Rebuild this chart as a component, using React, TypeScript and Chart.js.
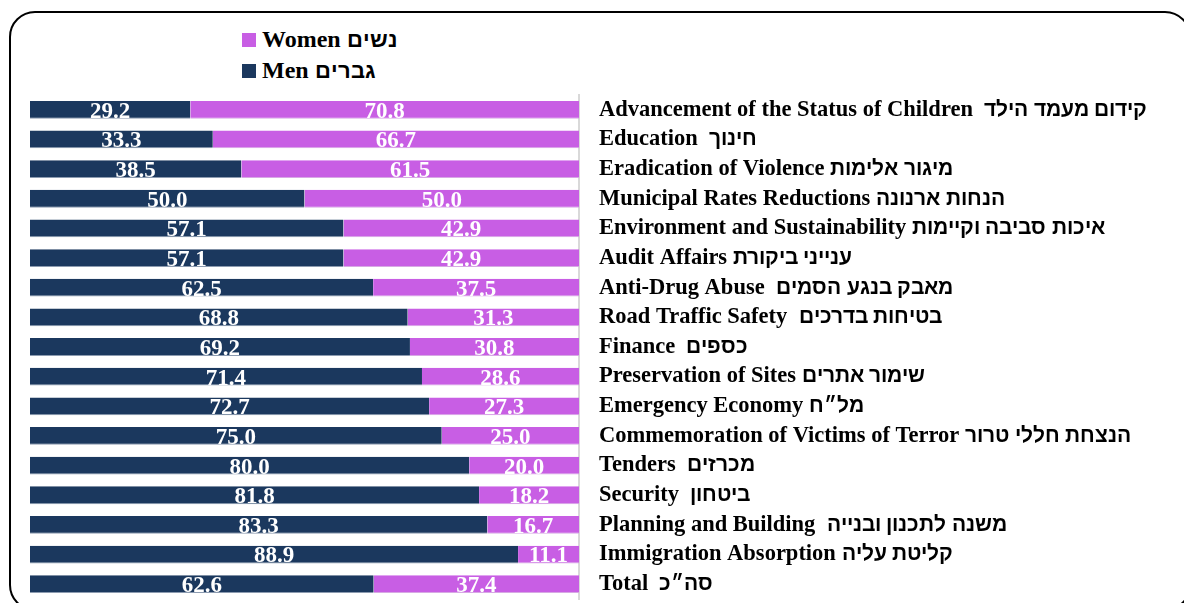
import React, { useEffect, useRef } from "react";
import { Chart, registerables } from "chart.js";

Chart.register(...registerables);

const categories = [
  "Advancement of the Status of Children  קידום מעמד הילד",
  "Education  חינוך",
  "Eradication of Violence מיגור אלימות",
  "Municipal Rates Reductions הנחות ארנונה",
  "Environment and Sustainability איכות סביבה וקיימות",
  "Audit Affairs ענייני ביקורת",
  "Anti-Drug Abuse  מאבק בנגע הסמים",
  "Road Traffic Safety  בטיחות בדרכים",
  "Finance  כספים",
  "Preservation of Sites שימור אתרים",
  "Emergency Economy מל״ח",
  "Commemoration of Victims of Terror הנצחת חללי טרור",
  "Tenders  מכרזים",
  "Security  ביטחון",
  "Planning and Building  משנה לתכנון ובנייה",
  "Immigration Absorption קליטת עליה",
  "Total  סה״כ",
];

const menValues = [29.2, 33.3, 38.5, 50.0, 57.1, 57.1, 62.5, 68.8, 69.2, 71.4, 72.7, 75.0, 80.0, 81.8, 83.3, 88.9, 62.6];
const womenValues = [70.8, 66.7, 61.5, 50.0, 42.9, 42.9, 37.5, 31.3, 30.8, 28.6, 27.3, 25.0, 20.0, 18.2, 16.7, 11.1, 37.4];

const seriesNames = ["Men גברים", "Women נשים"];
const seriesColors = ["#1b385e", "#c85ee4"];

const FONT = '"HebSans", "Liberation Serif", "Times New Roman", serif';

const fontCss = `
@font-face {
  font-family: "HebSans";
  src: local("Liberation Sans Bold"), local("LiberationSans-Bold");
  font-weight: bold;
  size-adjust: 92%;
  unicode-range: U+0590-05FF, U+FB1D-FB4F;
}
@font-face {
  font-family: "HebSans";
  src: local("Liberation Sans Bold"), local("LiberationSans-Bold");
  font-weight: normal;
  size-adjust: 92%;
  unicode-range: U+0590-05FF, U+FB1D-FB4F;
}
`;

const valueLabels = {
  id: "valueLabels",
  afterDatasetsDraw(chart: any) {
    const ctx = chart.ctx;
    ctx.save();
    ctx.fillStyle = "#ffffff";
    ctx.font = `bold 23px "Liberation Serif", "Times New Roman", serif`;
    ctx.textAlign = "center";
    ctx.textBaseline = "middle";
    chart.data.datasets.forEach((ds: any, di: number) => {
      const meta = chart.getDatasetMeta(di);
      meta.data.forEach((bar: any, i: number) => {
        const right = Math.min(bar.x, chart.chartArea.right);
        const cx = (right + bar.base) / 2;
        ctx.fillText(Number(ds.data[i]).toFixed(1), cx, bar.y + 2);
      });
    });
    ctx.restore();
  },
};

export default function App() {
  const ref = useRef<HTMLCanvasElement>(null);

  useEffect(() => {
    let chart: any = null;
    let cancelled = false;
    const build = () => {
      if (cancelled || !ref.current) return;
      chart = new Chart(ref.current, {
        type: "bar",
        data: {
          labels: categories,
          datasets: [
            {
              label: seriesNames[0],
              data: menValues,
              backgroundColor: seriesColors[0],
              borderColor: "#8c9bb0",
              borderWidth: { top: 0, left: 0, right: 0, bottom: 1 },
              borderSkipped: false,
              barPercentage: 1,
              categoryPercentage: 0.6,
            },
            {
              label: seriesNames[1],
              data: womenValues,
              backgroundColor: seriesColors[1],
              borderColor: "#d7a8e4",
              borderWidth: { top: 0, left: 0, right: 0, bottom: 1 },
              borderSkipped: false,
              barPercentage: 1,
              categoryPercentage: 0.6,
            },
          ],
        },
        options: {
          indexAxis: "y",
          animation: false,
          responsive: false,
          layout: { padding: { top: 95, bottom: 4, left: 30, right: 0 } },
          plugins: {
            legend: { display: false },
            tooltip: { enabled: false },
          },
          scales: {
            x: { stacked: true, min: 0, max: 100, display: false },
            y: {
              stacked: true,
              position: "right",
              grid: { display: false, drawTicks: false },
              border: { display: true, color: "#d9d9d9", width: 2 },
              ticks: {
                color: "#000000",
                padding: 20,
                autoSkip: false,
                crossAlign: "near",
                font: { family: FONT, size: 22.5, weight: "bold" },
              },
              afterFit: (s: any) => {
                s.width = 605;
                s.paddingTop = 0;
                s.paddingBottom = 0;
              },
            },
          },
        },
        plugins: [valueLabels],
      } as any);
    };
    const fonts: any = (document as any).fonts;
    if (fonts && fonts.load) {
      Promise.all([
        fonts.load(`bold 22px "HebSans"`, "אבג"),
        fonts.load(`bold 22px "Liberation Serif"`, "Abc"),
      ])
        .catch(() => {})
        .then(build);
    } else {
      build();
    }
    return () => {
      cancelled = true;
      if (chart) chart.destroy();
    };
  }, []);

  const legendOrder = [1, 0];

  return (
    <div
      style={{
        position: "fixed",
        left: 0,
        top: 0,
        width: 1184,
        height: 603,
        overflow: "hidden",
        background: "#ffffff",
      }}
    >
      <style>{fontCss}</style>
      <div
        style={{
          position: "absolute",
          left: 9,
          top: 11,
          width: 1182,
          height: 600,
          border: "2px solid #000",
          borderRadius: 26,
          boxSizing: "border-box",
        }}
      />
      <div style={{ position: "absolute", left: 242, top: 24 }}>
        {legendOrder.map((i) => (
          <div
            key={i}
            style={{
              display: "flex",
              alignItems: "center",
              height: 31,
              fontFamily: FONT,
              fontWeight: "bold",
              fontSize: 24,
              color: "#000",
              whiteSpace: "pre",
            }}
          >
            <span
              style={{
                display: "inline-block",
                width: 14,
                height: 14,
                background: seriesColors[i],
                marginRight: 6,
              }}
            />
            <span>{seriesNames[i].split(" ")[0]} {seriesNames[i].split(" ").slice(1).join(" ")}</span>
          </div>
        ))}
      </div>
      <canvas
        ref={ref}
        width={1184}
        height={603}
        style={{ position: "absolute", left: 0, top: 0, width: 1184, height: 603 }}
      />
    </div>
  );
}
